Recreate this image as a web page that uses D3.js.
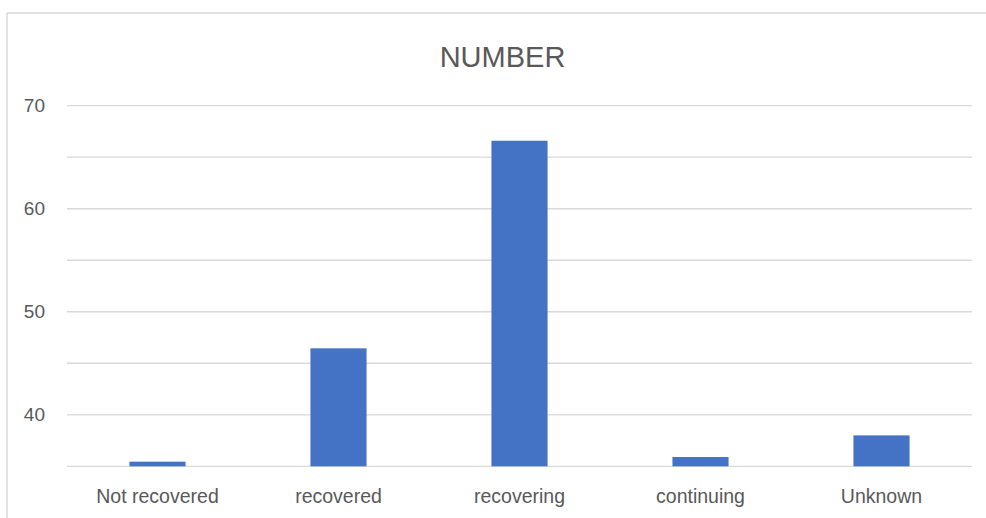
<!DOCTYPE html>
<html>
<head>
<meta charset="utf-8">
<script src="https://cdn.jsdelivr.net/npm/d3@7"></script>
<style>
  body { margin: 0; background: #fff; }
  text { font-family: "Liberation Sans", Arial, sans-serif; fill: #595959; }
</style>
</head>
<body>
<script>
// chart data
var categories = ["Not recovered", "recovered", "recovering", "continuing", "Unknown"];
var values = [35.45, 46.45, 66.6, 35.9, 38];
var gridTicks = [35, 40, 45, 50, 55, 60, 65, 70];
var labelTicks = [40, 50, 60, 70];
var title = "NUMBER";

var W = 986, H = 518;
var plot = {left: 67, right: 972, top: 105.7, bottom: 466.3};

var svg = d3.select("body").append("svg")
    .attr("width", W)
    .attr("height", H);

// chart area border (only top and left visible in the crop)
svg.append("line").attr("x1", 7).attr("x2", W).attr("y1", 13).attr("y2", 13)
    .style("stroke", "#d9d9d9").style("stroke-width", 1.5);
svg.append("line").attr("x1", 7).attr("x2", 7).attr("y1", 13).attr("y2", H)
    .style("stroke", "#d9d9d9").style("stroke-width", 1.5);

var x = d3.scaleBand()
    .domain(categories)
    .range([plot.left, plot.right])
    .paddingInner(0.69)
    .paddingOuter(0.345);

var y = d3.scaleLinear()
    .domain([35, 70])
    .range([plot.bottom, plot.top]);

// gridlines
svg.append("g").selectAll("line")
    .data(gridTicks)
    .enter().append("line")
    .attr("x1", plot.left).attr("x2", plot.right)
    .attr("y1", d => y(d)).attr("y2", d => y(d))
    .style("stroke", "#d9d9d9")
    .style("stroke-width", 1.3);

// y labels
svg.append("g").selectAll("text")
    .data(labelTicks)
    .enter().append("text")
    .attr("x", 45)
    .attr("y", d => y(d))
    .attr("dy", "0.35em")
    .attr("text-anchor", "end")
    .style("font-size", "19px")
    .text(d => d);

// bars
svg.append("g").selectAll("rect")
    .data(values)
    .enter().append("rect")
    .attr("x", (d, i) => x(categories[i]))
    .attr("width", x.bandwidth())
    .attr("y", d => y(d))
    .attr("height", d => y(35) - y(d))
    .style("fill", "#4472c4");

// x labels
svg.append("g").selectAll("text")
    .data(categories)
    .enter().append("text")
    .attr("x", d => x(d) + x.bandwidth() / 2)
    .attr("y", 503)
    .attr("text-anchor", "middle")
    .style("font-size", "19.5px")
    .text(d => d);

// title
svg.append("text")
    .attr("x", 502.5)
    .attr("y", 67)
    .attr("text-anchor", "middle")
    .style("font-size", "29px")
    .text(title);
</script>
</body>
</html>
